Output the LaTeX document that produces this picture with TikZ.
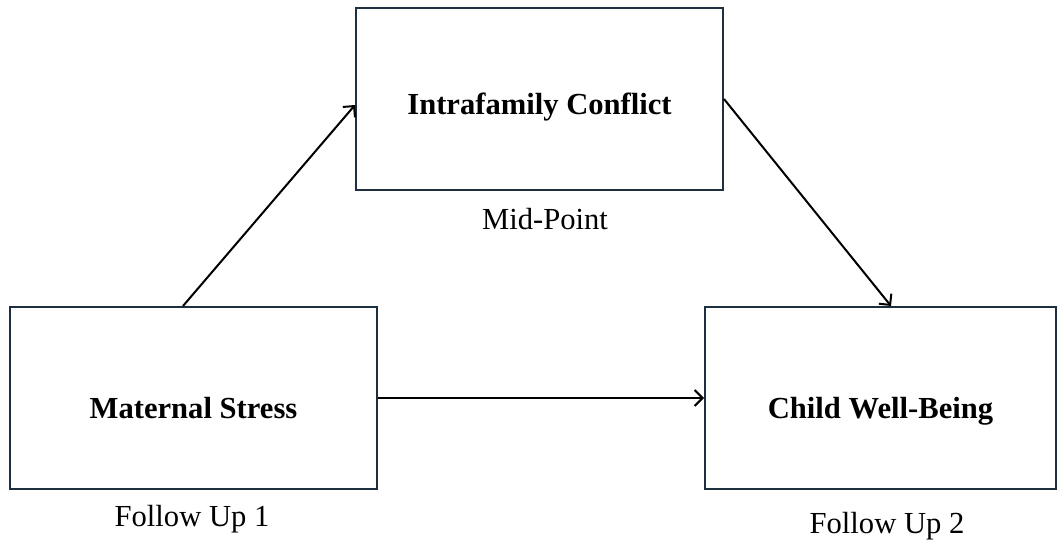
\documentclass[tikz,border=0pt]{standalone}
\usepackage{fontspec}
\setmainfont{Liberation Serif}
\usetikzlibrary{arrows.meta}
\definecolor{boxc}{RGB}{30,48,64}
\tikzset{
  varbox/.style={draw=boxc, line width=2pt, minimum width=367pt, minimum height=182pt,
    inner sep=0pt, font=\fontsize{30.6}{36}\selectfont\bfseries, anchor=north west,
    text height=40pt, text depth=0pt},
  lbl/.style={font=\fontsize{30.6}{36}\selectfont, inner sep=0pt},
  conn/.style={line width=2pt, draw=black, -{Straight Barb[length=8pt,width=16pt,line width=2pt]}}
}
\begin{document}
\begin{tikzpicture}[x=1pt,y=-1pt]
\useasboundingbox (0,0) rectangle (1061,544);
\node[varbox, text height=31pt] (b1) at (355,7) {Intrafamily Conflict};
\node[varbox] (b2) at (9,306) {Maternal Stress};
\node[varbox, minimum width=351pt] (b3) at (704,306) {Child Well-Being};
\node[lbl] (mp) at (545,219) {Mid-Point};
\node[lbl] (f1) at (192,519) {Follow Up 1};
\node[lbl] (f2) at (887,526) {Follow Up 2};
\draw[conn] ([xshift=174pt]b2.north west) -- ([yshift=-6pt]b1.west);
\draw[conn] (b1.east) -- ([xshift=187pt]b3.north west);
\draw[conn] (b2.east) -- (b3.west);
\end{tikzpicture}
\end{document}
